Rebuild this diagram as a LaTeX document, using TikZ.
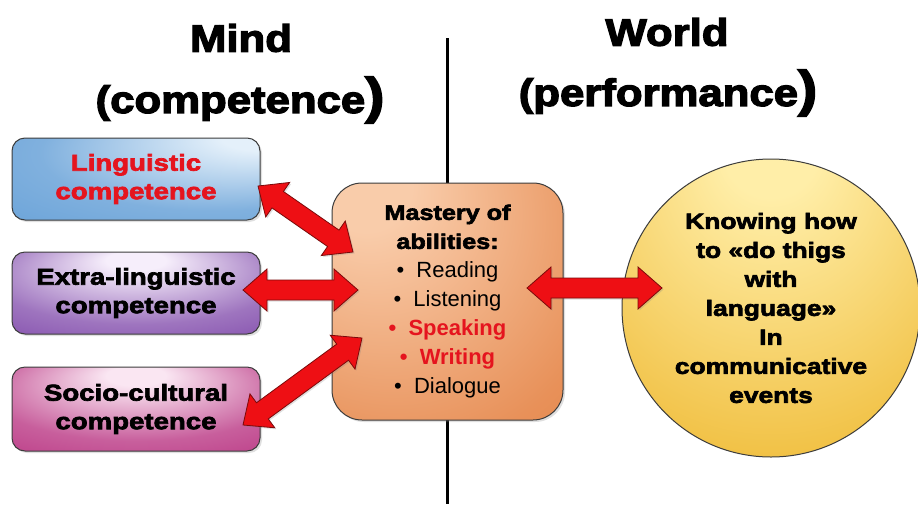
\documentclass[tikz,border=0pt]{standalone}
\usepackage{fontspec}
\setmainfont{Liberation Sans}
\newfontfamily\hv{Liberation Sans Bold}[FakeStretch=1.2,FakeBold=3]
\newfontfamily\ttl{Liberation Sans Bold}[FakeStretch=1.15,FakeBold=3.5]
\usetikzlibrary{calc,shadows}
\definecolor{arrred}{HTML}{EE0F14}
\definecolor{arrdark}{HTML}{7A0A0A}
\definecolor{txtred}{HTML}{E5141E}
\definecolor{bordergray}{HTML}{3C3C3C}
\definecolor{blueout}{HTML}{4A8FD0}
\definecolor{bluein}{HTML}{E4F0FA}
\definecolor{purpout}{HTML}{6A2A9C}
\definecolor{purpin}{HTML}{F6EEFB}
\definecolor{magout}{HTML}{B01A72}
\definecolor{magin}{HTML}{FAE6F2}
\definecolor{orout}{HTML}{E06C22}
\definecolor{orin}{HTML}{F9CCAA}
\definecolor{yelout}{HTML}{EDAE0A}
\definecolor{yelin}{HTML}{FFEEA8}
\pgfdeclareradialshading{shBlue}{\pgfpoint{28bp}{28bp}}{color(0bp)=(bluein); color(8bp)=(bluein); color(35bp)=(blueout!70); color(80bp)=(blueout)}
\pgfdeclareradialshading{shPurp}{\pgfpoint{0bp}{22bp}}{color(0bp)=(purpin); color(6bp)=(purpin); color(30bp)=(purpout!65); color(60bp)=(purpout)}
\pgfdeclareradialshading{shMag}{\pgfpoint{0bp}{22bp}}{color(0bp)=(magin); color(6bp)=(magin); color(30bp)=(magout!70); color(60bp)=(magout)}
\pgfdeclareradialshading{shOr}{\pgfpoint{-20bp}{28bp}}{color(0bp)=(orin); color(10bp)=(orin); color(45bp)=(orout!75); color(85bp)=(orout)}
\pgfdeclareradialshading{shYel}{\pgfpoint{0bp}{30bp}}{color(0bp)=(yelin); color(8bp)=(yelin); color(38bp)=(yelout!75); color(70bp)=(yelout)}
\def\AL{24pt}\def\AW{21pt}\def\AS{10pt}
\newcommand{\dblarrow}[2]{%
 \path[blockarrow] (#1)
 -- ($($(#1)!\AL!(#2)$)!\AW!90:(#2)$)
 -- ($($(#1)!\AL!(#2)$)!\AS!90:(#2)$)
 -- ($($(#2)!\AL!(#1)$)!\AS!-90:(#1)$)
 -- ($($(#2)!\AL!(#1)$)!\AW!-90:(#1)$)
 -- (#2)
 -- ($($(#2)!\AL!(#1)$)!\AW!90:(#1)$)
 -- ($($(#2)!\AL!(#1)$)!\AS!90:(#1)$)
 -- ($($(#1)!\AL!(#2)$)!\AS!-90:(#2)$)
 -- ($($(#1)!\AL!(#2)$)!\AW!-90:(#2)$)
 -- cycle;}
\begin{document}
\begin{tikzpicture}[x=1pt,y=-1pt,
  cbox/.style={draw=bordergray, line width=1pt, rounded corners=13pt, shade,
    minimum width=248pt, minimum height=82pt, align=center,
    font=\hv\fontsize{23}{28.5}\selectfont,
    drop shadow={opacity=0.25, shadow xshift=2pt, shadow yshift=-2pt}},
  title/.style={font=\ttl\fontsize{38}{40}\selectfont, inner sep=0pt},
  blockarrow/.style={fill=arrred, draw=arrdark, line width=0.8pt, line join=miter,
    drop shadow={opacity=0.25, shadow xshift=1.5pt, shadow yshift=-1.5pt}}]
\useasboundingbox (0,0) rectangle (918,504);
\fill[white] (0,0) rectangle (918,504);
% titles
\node[title] (mind) at (241,38) {Mind};
\node[title] (comp) at (240,100) {(competence{\fontsize{50}{50}\selectfont)}};
\node[title] (world) at (667,32) {World};
\node[title] (perf) at (668,93) {(performance{\fontsize{50}{50}\selectfont)}};
% divider
\coordinate (ltop) at (447,38);
\coordinate (lbot) at (447,504);
\draw[line width=3pt] (ltop) -- (lbot);
% left boxes
\node[cbox, shading=shBlue] (ling) at (136,179) {\color{txtred}Linguistic\\\color{txtred}competence};
\node[cbox, shading=shPurp] (extra) at (136,293) {Extra-linguistic\\competence};
\node[cbox, shading=shMag, minimum height=84pt] (socio) at (136,409) {Socio-cultural\\competence};
% center box
\node[draw=bordergray, line width=1pt, rounded corners=30pt, shade, shading=shOr,
  minimum width=231pt, minimum height=237pt, align=center,
  font=\fontsize{22}{29}\selectfont,
  drop shadow={opacity=0.25, shadow xshift=2pt, shadow yshift=-2pt}] (mast) at (447.5,301.5)
  {{\hv\fontsize{21}{29}\selectfont Mastery of}\\
   {\hv\fontsize{21}{29}\selectfont abilities:}\\
   \textbullet\ \ Reading\\
   \textbullet\ \ Listening\\
   {\color{txtred}\bfseries\textbullet\ \ Speaking}\\
   {\color{txtred}\bfseries\textbullet\ \ Writing}\\
   \textbullet\ \ Dialogue};
% circle
\node[circle, draw=bordergray, line width=1pt, shade, shading=shYel,
  minimum size=298pt, align=center, inner sep=0pt,
  font=\hv\fontsize{22}{29}\selectfont] (know) at (771,308)
  {Knowing how\\to «do thigs\\with\\language»\\In\\communicative\\events};
% arrows
\coordinate (a1s) at (258,186);
\coordinate (a1e) at (353,252);
\coordinate (a2s) at (243,290);
\coordinate (a2e) at (358,290);
\coordinate (a3s) at (243,425);
\coordinate (a3e) at (362,338);
\coordinate (a4s) at (527,288);
\coordinate (a4e) at (662,288);
\dblarrow{a1s}{a1e}
\dblarrow{a2s}{a2e}
\dblarrow{a3s}{a3e}
\dblarrow{a4s}{a4e}
\end{tikzpicture}
\end{document}
